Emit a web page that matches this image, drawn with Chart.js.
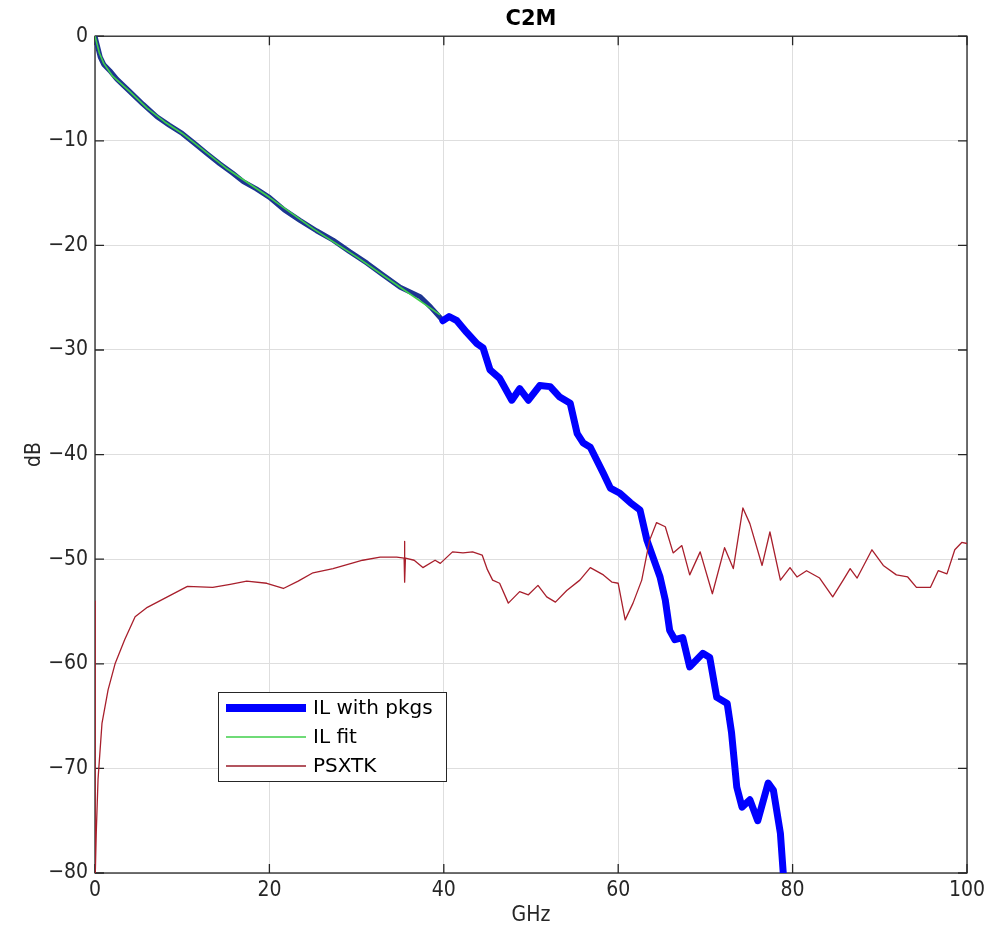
<!DOCTYPE html>
<html>
<head>
<meta charset="utf-8">
<script src="https://cdn.jsdelivr.net/npm/chart.js@4.4.0/dist/chart.umd.min.js"></script>
<style>
  html, body { margin: 0; padding: 0; background: #ffffff; }
  canvas { display: block; }
</style>
</head>
<body>
<canvas id="grafico" width="992" height="934"></canvas>
<script>
// frequências (GHz) e valores (dB)
const ilFreq = [0, 0.3, 0.6, 1.0, 1.7, 2.5, 4.0, 5.5, 7.1, 8.5, 10, 11.5, 12.8, 14.3, 15.8, 17, 18.5, 20,
  21.7, 23.5, 25.4, 27.3, 29.2, 31.2, 33, 35, 37.3, 38.5, 39.9, 40.6, 41.5, 42.6, 43.8, 44.5, 45.3, 46.4, 47.8,
  48.7, 49.7, 51.0, 52.2, 53.3, 54.5, 55.3, 56.0, 56.8, 58.3, 59.1, 60.2, 61.4, 62.5, 63.3, 64.8, 65.4,
  65.9, 66.5, 67.4, 68.2, 69.7, 70.5, 71.3, 72.5, 73, 73.6, 74.2, 75.1, 76.0, 77.2, 77.8, 78.6, 78.9, 79.2];
const ilDb = [0, -1, -2, -2.7, -3.3, -4.1, -5.3, -6.5, -7.7, -8.5, -9.3, -10.3, -11.2, -12.2, -13.1, -13.9, -14.6, -15.4,
  -16.6, -17.6, -18.6, -19.5, -20.6, -21.7, -22.8, -24, -24.9, -25.9, -27.2, -26.8, -27.2, -28.3, -29.4, -29.8, -31.9, -32.7, -34.8,
  -33.7, -34.8, -33.4, -33.5, -34.5, -35.1, -38, -38.9, -39.3, -41.8, -43.2, -43.7, -44.6, -45.3, -48.2, -51.7, -53.9,
  -56.8, -57.7, -57.5, -60.3, -59, -59.4, -63.2, -63.8, -66.6, -71.8, -73.7, -73, -75, -71.4, -72.1, -76.2, -79.7, -83];

const fitFreq = [0, 0.5, 1, 2, 4, 6, 8, 10, 12, 15, 20, 25, 30, 35, 39.5];
const fitDb = [0, -1.6, -2.6, -3.8, -5.3, -6.9, -8.2, -9.3, -10.6, -12.6, -15.4, -18.4, -21.1, -24, -26.6];

const xtkFreq = [0, 0.02, 0.15, 0.35, 0.8, 1.5, 2.3, 3.4, 4.6, 6, 8.3, 10.6, 13.5, 15.5, 17.4, 19.7, 21.6, 23.3,
  25, 27.3, 30.7, 32.7, 34.6, 35.45, 35.5, 35.52, 35.6, 36.6, 37.6, 39, 39.6, 41, 42.2, 43.3, 44.4, 45, 45.6,
  46.4, 47.4, 48.7, 49.7, 50.8, 51.8, 52.8, 54.1, 55.6, 56.8, 58.3, 59.3, 60, 60.8, 61.7, 62.7, 63.6, 64.4,
  65.4, 66.3, 67.3, 68.2, 69.4, 70.8, 72.2, 73.2, 74.3, 75.1, 76.5, 77.4, 78.6, 79.7, 80.5, 81.6, 83.1, 84.6,
  85.8, 86.6, 87.4, 89.1, 90.4, 91.9, 93.2, 94.2, 95.8, 96.7, 97.7, 98.6, 99.4, 100];
const xtkDb = [-54, -80.5, -76, -71, -65.7, -62.5, -60, -57.7, -55.5, -54.6, -53.6, -52.6, -52.7, -52.4, -52.1, -52.3, -52.8, -52.1,
  -51.3, -50.9, -50.1, -49.8, -49.8, -49.9, -48.3, -52.2, -49.9, -50.1, -50.8, -50.1, -50.4, -49.3, -49.4, -49.3, -49.6, -51, -52,
  -52.3, -54.2, -53.1, -53.4, -52.5, -53.6, -54.1, -53, -52, -50.8, -51.5, -52.2, -52.3, -55.8, -54.2, -52, -48.2, -46.5,
  -46.9, -49.4, -48.7, -51.5, -49.3, -53.3, -48.9, -50.9, -45.1, -46.6, -50.6, -47.4, -52, -50.8, -51.7, -51.1, -51.8, -53.6,
  -52, -50.9, -51.8, -49.1, -50.6, -51.5, -51.7, -52.7, -52.7, -51.1, -51.4, -49.1, -48.4, -48.5];

const xTicks = [0, 20, 40, 60, 80, 100];
const yTicks = [0, -10, -20, -30, -40, -50, -60, -70, -80];
const nomes = ['IL with pkgs', 'IL fit', 'PSXTK'];

const fonte = '"DejaVu Sans Condensed", "Liberation Sans Narrow", "DejaVu Sans", sans-serif';
const corEixo = '#262626';

function pares(xs, ys) {
  return xs.map((v, i) => ({ x: v, y: ys[i] }));
}

// caixa do eixo com marcas para dentro (estilo matlab)
const caixa = {
  id: 'caixa',
  beforeDatasetsDraw(chart) {
    const { ctx, chartArea: a, scales } = chart;
    ctx.save();
    ctx.strokeStyle = corEixo;
    ctx.lineWidth = 1.3;
    ctx.strokeRect(a.left, a.top, a.right - a.left, a.bottom - a.top);
    ctx.beginPath();
    xTicks.forEach(v => {
      const px = scales.x.getPixelForValue(v);
      ctx.moveTo(px, a.bottom); ctx.lineTo(px, a.bottom - 9);
      ctx.moveTo(px, a.top); ctx.lineTo(px, a.top + 9);
    });
    yTicks.forEach(v => {
      const py = scales.y.getPixelForValue(v);
      ctx.moveTo(a.left, py); ctx.lineTo(a.left + 9, py);
      ctx.moveTo(a.right, py); ctx.lineTo(a.right - 9, py);
    });
    ctx.stroke();
    ctx.restore();
  }
};

// legenda dentro do gráfico
const legenda = {
  id: 'legenda',
  afterDatasetsDraw(chart) {
    const { ctx } = chart;
    const bx = 218, by = 692, bw = 228, bh = 89;
    ctx.save();
    ctx.fillStyle = '#ffffff';
    ctx.fillRect(bx, by, bw, bh);
    ctx.strokeStyle = corEixo;
    ctx.lineWidth = 1;
    ctx.strokeRect(bx + 0.5, by + 0.5, bw, bh);
    const larguras = [8, 1.5, 1.5];
    const cores = ['#0000ff', '#3fcf4a', '#9a1c2a'];
    ctx.font = '20px "DejaVu Sans", sans-serif';
    ctx.textBaseline = 'middle';
    nomes.forEach((n, i) => {
      const y = by + 16 + i * 29;
      ctx.strokeStyle = cores[i];
      ctx.lineWidth = larguras[i];
      ctx.beginPath();
      ctx.moveTo(bx + 8, y);
      ctx.lineTo(bx + 88, y);
      ctx.stroke();
      ctx.fillStyle = '#000000';
      ctx.fillText(n, bx + 95, y + 1);
    });
    ctx.restore();
  }
};

const ctx = document.getElementById('grafico').getContext('2d');
const grafico = new Chart(ctx, {
  type: 'line',
  data: {
    datasets: [{
      label: nomes[0],
      data: pares(ilFreq, ilDb),
      borderColor: '#0000ff',
      borderWidth: 7,
      order: 2,
      segment: {
        borderColor: c => c.p1.parsed.x <= 40 ? '#1d3591' : undefined,
        borderWidth: c => c.p1.parsed.x <= 40 ? 5 : undefined
      }
    }, {
      label: nomes[1],
      data: pares(fitFreq, fitDb),
      borderColor: '#3fcf4a',
      borderWidth: 1.6,
      order: 0
    }, {
      label: nomes[2],
      data: pares(xtkFreq, xtkDb),
      borderColor: '#a81f2c',
      borderWidth: 1.3,
      order: 1
    }]
  },
  options: {
    responsive: false,
    animation: false,
    devicePixelRatio: 1,
    layout: { padding: { left: 0, right: 25, top: 0, bottom: 0 } },
    elements: {
      point: { radius: 0 },
      line: { tension: 0, borderJoinStyle: 'round', borderCapStyle: 'round' }
    },
    plugins: {
      legend: { display: false },
      tooltip: { enabled: false },
      title: {
        display: true,
        text: 'C2M',
        fullSize: false,
        color: '#000000',
        font: { family: '"DejaVu Sans", sans-serif', size: 21, weight: 'bold' },
        padding: { top: 7, bottom: 4 }
      }
    },
    scales: {
      x: {
        type: 'linear',
        min: 0,
        max: 100,
        afterBuildTicks: s => { s.ticks = xTicks.map(v => ({ value: v })); },
        afterFit: s => { s.height = 61; },
        ticks: { color: corEixo, font: { family: fonte, size: 21 }, padding: 5, maxRotation: 0 },
        grid: { color: '#dedede', lineWidth: 1, drawTicks: false },
        border: { display: false },
        title: { display: true, text: 'GHz', color: corEixo, font: { family: fonte, size: 21 }, padding: { top: 0, bottom: 6 } }
      },
      y: {
        type: 'linear',
        min: -80,
        max: 0,
        afterBuildTicks: s => { s.ticks = yTicks.map(v => ({ value: v })); },
        afterFit: s => { s.width = 95; },
        ticks: {
          color: corEixo,
          font: { family: fonte, size: 21 },
          padding: 7,
          callback: v => String(v).replace('-', '\u2212')
        },
        grid: { color: '#dedede', lineWidth: 1, drawTicks: false },
        border: { display: false },
        title: { display: true, text: 'dB', color: corEixo, font: { family: fonte, size: 21 }, padding: { top: 22, bottom: 0 } }
      }
    }
  },
  plugins: [caixa, legenda]
});
</script>
</body>
</html>
